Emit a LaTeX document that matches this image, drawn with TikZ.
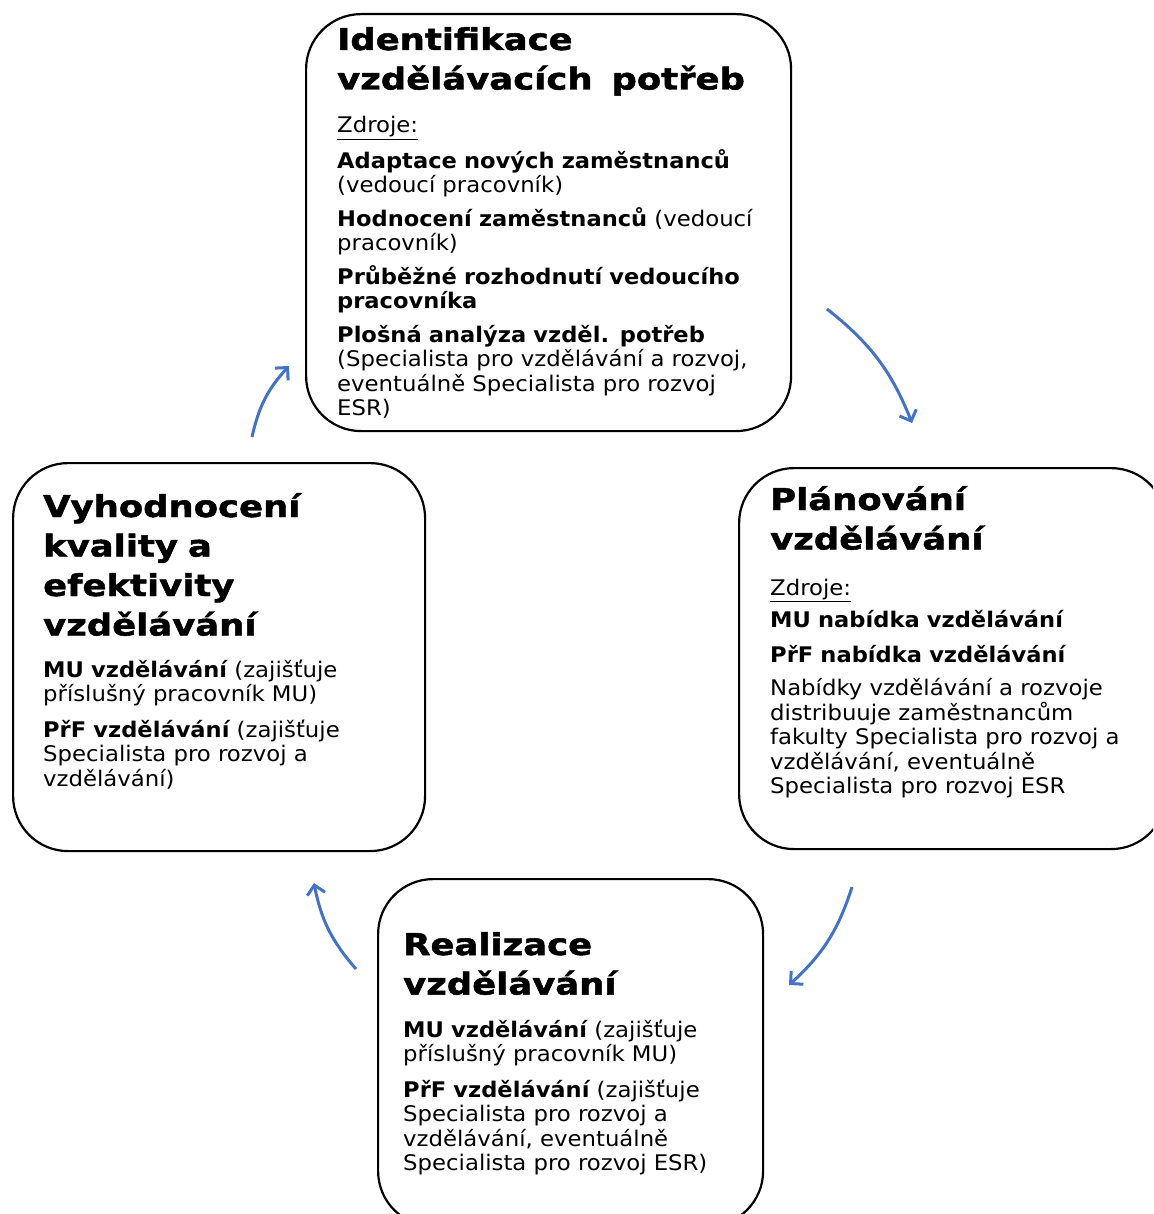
\documentclass[tikz,border=0pt]{standalone}
\usepackage{fontspec}
\setmainfont{DejaVu Sans}[FakeStretch=1.06, BoldFeatures={FakeStretch=1.05}]
\newfontfamily\stagetitlefont{DejaVu Sans}[FakeStretch=1.18, BoldFeatures={FakeStretch=1.18, FakeBold=1.6}]
\usetikzlibrary{arrows.meta}
\definecolor{arrowblue}{RGB}{68,114,196}
\begin{document}
\begin{tikzpicture}[x=1pt,y=1pt,
  stagebox/.style={draw=black, line width=2.2pt, rounded corners=55pt, anchor=north west, inner sep=0pt},
  titletext/.style={anchor=base west, inner sep=0pt, text width=480pt, align=left, font=\stagetitlefont\fontsize{30}{39.5}\selectfont\bfseries},
  bodytext/.style={anchor=base west, inner sep=0pt, text width=480pt, align=left, font=\fontsize{21.5}{24.5}\selectfont},
  cyclearrow/.style={draw=arrowblue, line width=3pt, -{Straight Barb[length=9pt,width=18pt]}, bend left=15}
]
\useasboundingbox (0,0) rectangle (1153,-1214);
\clip (0,0) rectangle (1153,-1214);
\fill[white] (0,0) rectangle (1153,-1214);

% boxes
\node[stagebox, minimum width=485pt, minimum height=417pt] (ident) at (305,-13) {};
\node[stagebox, minimum width=427pt, minimum height=381pt] (plan) at (738,-467) {};
\node[stagebox, minimum width=412pt, minimum height=388pt] (eval) at (12,-462) {};
\node[stagebox, minimum width=385pt, minimum height=347pt] (real) at (377,-878) {};

% top box text
\node[titletext] (identT) at (337,-50) {Identifikace\\vzdělávacích\hspace{0.3em} potřeb};
\node[bodytext] (identB) at (337,-133) {\underline{Zdroje:}\\[9pt]
{\bfseries Adaptace nových zaměstnanců}\\
(vedoucí pracovník)\\[9pt]
{\bfseries Hodnocení zaměstnanců} (vedoucí\\
pracovník)\\[9pt]
{\bfseries Průběžné rozhodnutí vedoucího}\\
{\bfseries pracovníka}\\[9pt]
{\bfseries Plošná analýza vzděl. potřeb}\\
(Specialista pro vzdělávání a rozvoj,\\
eventuálně Specialista pro rozvoj\\
ESR)};

% right box text
\node[titletext] (planT) at (770,-510) {Plánování\\vzdělávání};
\node[bodytext] (planB) at (770,-595) {\underline{Zdroje:}\\[8pt]
{\bfseries MU nabídka vzdělávání}\\[10pt]
{\bfseries PřF nabídka vzdělávání}\\[9pt]
Nabídky vzdělávání a rozvoje\\
distribuuje zaměstnancům\\
fakulty Specialista pro rozvoj a\\
vzdělávání, eventuálně\\
Specialista pro rozvoj ESR};

% left box text
\node[titletext] (evalT) at (43,-517) {Vyhodnocení\\kvality a\\efektivity\\vzdělávání};
\node[bodytext] (evalB) at (43,-677) {{\bfseries MU vzdělávání} (zajišťuje\\
příslušný pracovník MU)\\[11pt]
{\bfseries PřF vzdělávání} (zajišťuje\\
Specialista pro rozvoj a\\
vzdělávání)};

% bottom box text
\node[titletext] (realT) at (403,-955) {Realizace\\vzdělávání};
\node[bodytext] (realB) at (403,-1037) {{\bfseries MU vzdělávání} (zajišťuje\\
příslušný pracovník MU)\\[11pt]
{\bfseries PřF vzdělávání} (zajišťuje\\
Specialista pro rozvoj a\\
vzdělávání, eventuálně\\
Specialista pro rozvoj ESR)};

% arrows
\coordinate (a1s) at (252,-437);
\coordinate (a1e) at (289,-366);
\coordinate (a2s) at (827,-309);
\coordinate (a2e) at (912,-423);
\coordinate (a3s) at (852,-887);
\coordinate (a3e) at (789,-985);
\coordinate (a4s) at (356,-969);
\coordinate (a4e) at (314,-883);
\draw[cyclearrow] (a1s) to (a1e);
\draw[cyclearrow] (a2s) to (a2e);
\draw[cyclearrow] (a3s) to (a3e);
\draw[cyclearrow] (a4s) to (a4e);
\end{tikzpicture}
\end{document}
